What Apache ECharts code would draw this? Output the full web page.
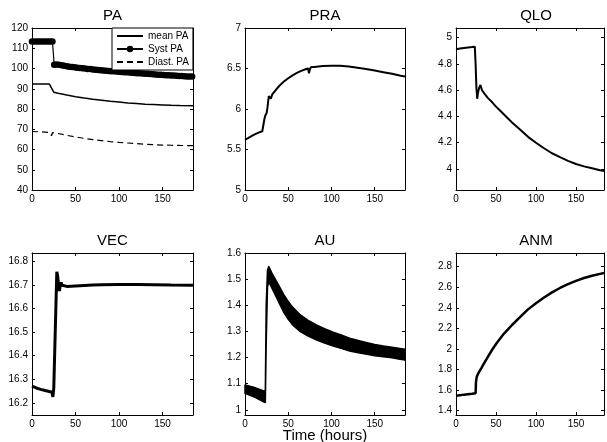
<!DOCTYPE html>
<html><head><meta charset="utf-8">
<script src="https://cdn.jsdelivr.net/npm/echarts@6/dist/echarts.min.js"></script>
<style>html,body{margin:0;padding:0;background:#fff}#c{width:607px;height:442px}</style>
</head><body><div id="c"></div>
<script>
// ---------- data ----------
const panelTitles = ['PA', 'PRA', 'QLO', 'VEC', 'AU', 'ANM'];
const xLabel = 'Time (hours)';
const xTickStep = 50;
const xMax = 185;
const yMins = [40, 5, 3.84, 16.148, 0.98, 1.358];
const yMaxs = [120, 7, 5.074, 16.837, 1.6, 2.933];
const ySteps = [10, 0.5, 0.2, 0.1, 0.1, 0.2];

const paLegend = ['mean PA', 'Syst PA', 'Diast. PA'];
const paMeanT = [0, 10, 20, 22, 25, 30, 40, 50, 60, 70, 80, 90, 100, 110, 120, 130, 140, 150, 160, 170, 185];
const paMean  = [92.3, 92.3, 92.3, 92.3, 88.3, 87.8, 86.9, 86.1, 85.4, 84.8, 84.3, 83.8, 83.4, 83.0, 82.7, 82.4, 82.2, 82.0, 81.8, 81.7, 81.6];
const paSystT = [0, 3, 6, 9, 12, 15, 18, 21, 23.5, 25.5, 28, 31, 34, 37, 40, 43, 46, 49, 52, 55, 58, 61, 64, 67, 70, 73, 76, 79, 82, 85, 88, 91, 94, 97, 100, 103, 106, 109, 112, 115, 118, 121, 124, 127, 130, 133, 136, 139, 142, 145, 148, 151, 154, 157, 160, 163, 166, 169, 172, 175, 178, 181, 184];
const paSyst  = [113.3, 113.3, 113.3, 113.3, 113.3, 113.3, 113.3, 113.3, 113.3, 101.9, 102.0, 101.8, 101.6, 101.4, 101.1, 100.9, 100.7, 100.6, 100.4, 100.3, 100.1, 100.0, 99.8, 99.7, 99.5, 99.4, 99.2, 99.1, 99.0, 98.9, 98.8, 98.7, 98.6, 98.5, 98.4, 98.3, 98.2, 98.1, 98.0, 97.9, 97.8, 97.7, 97.6, 97.5, 97.4, 97.35, 97.3, 97.2, 97.0, 96.95, 96.9, 96.8, 96.7, 96.65, 96.6, 96.5, 96.4, 96.35, 96.3, 96.2, 96.1, 96.05, 96.0];
const paDiastT = [0, 10, 20, 21.5, 22.5, 23.5, 30, 40, 50, 60, 70, 80, 90, 100, 110, 120, 130, 140, 150, 160, 170, 185];
const paDiast  = [68.9, 68.7, 68.4, 68.4, 66.8, 68.3, 67.9, 67.0, 66.2, 65.5, 64.9, 64.4, 63.9, 63.5, 63.2, 62.9, 62.6, 62.4, 62.2, 62.1, 62.0, 61.9];

const praT = [0, 5, 10, 15, 20, 22, 22.5, 23.5, 25, 26, 27.5, 28.5, 30, 31, 31.5, 33, 36, 40, 45, 50, 55, 60, 65, 70, 73, 74, 75, 76, 80, 90, 100, 110, 120, 130, 140, 150, 160, 170, 180, 185];
const pra  = [5.62, 5.65, 5.68, 5.705, 5.725, 5.735, 5.88, 5.92, 5.95, 6.02, 6.16, 6.14, 6.13, 6.14, 6.18, 6.2, 6.24, 6.29, 6.34, 6.38, 6.415, 6.445, 6.47, 6.49, 6.50, 6.44, 6.49, 6.515, 6.52, 6.53, 6.535, 6.533, 6.525, 6.51, 6.495, 6.475, 6.455, 6.435, 6.41, 6.40];

const qloT = [0, 5, 10, 15, 20, 23.5, 24.5, 25.5, 26.5, 27.5, 29, 30.5, 31.5, 32.5, 34, 36, 40, 45, 50, 55, 60, 65, 70, 80, 90, 100, 110, 120, 130, 140, 150, 160, 170, 180, 185];
const qlo  = [4.912, 4.917, 4.922, 4.926, 4.929, 4.932, 4.80, 4.62, 4.535, 4.58, 4.62, 4.64, 4.62, 4.60, 4.585, 4.57, 4.54, 4.51, 4.475, 4.445, 4.415, 4.385, 4.355, 4.30, 4.245, 4.2, 4.158, 4.12, 4.09, 4.062, 4.038, 4.02, 4.005, 3.99, 3.985];

const vecT = [0, 5, 10, 15, 20, 23, 24, 24.5, 25, 28.5, 29.5, 30.5, 31.5, 32.5, 33.5, 34.5, 36, 40, 50, 60, 70, 80, 100, 120, 140, 160, 185];
const vec  = [16.271, 16.263, 16.257, 16.252, 16.248, 16.245, 16.225, 16.218, 16.26, 16.757, 16.74, 16.70, 16.675, 16.70, 16.712, 16.70, 16.692, 16.695, 16.697, 16.699, 16.701, 16.702, 16.703, 16.703, 16.702, 16.701, 16.70];

const auT     = [0, 10, 21, 23.5, 24.5, 26, 27.5, 31, 35, 40, 45, 50, 55, 64, 73, 83, 92, 102, 112, 121, 131, 141, 150, 160, 170, 179, 185];
const auUpper = [1.095, 1.086, 1.073, 1.070, 1.40, 1.535, 1.548, 1.524, 1.50, 1.47, 1.44, 1.415, 1.393, 1.363, 1.342, 1.324, 1.310, 1.297, 1.285, 1.274, 1.265, 1.257, 1.250, 1.244, 1.239, 1.235, 1.232];
const auLower = [1.063, 1.050, 1.031, 1.028, 1.25, 1.47, 1.49, 1.466, 1.44, 1.405, 1.372, 1.346, 1.325, 1.299, 1.282, 1.267, 1.255, 1.244, 1.234, 1.225, 1.218, 1.212, 1.207, 1.203, 1.199, 1.193, 1.19];

const anmT = [0, 5, 10, 15, 20, 24.5, 25, 26, 28, 31.5, 35, 40, 45, 50.7, 55, 60, 65, 70, 80, 90, 100, 110, 120, 130, 140, 150, 160, 170, 180, 185];
const anm  = [1.546, 1.551, 1.556, 1.560, 1.564, 1.569, 1.68, 1.731, 1.765, 1.812, 1.86, 1.925, 1.99, 2.055, 2.10, 2.15, 2.19, 2.233, 2.31, 2.385, 2.445, 2.50, 2.55, 2.593, 2.63, 2.662, 2.69, 2.712, 2.73, 2.738];

// ---------- chart ----------
const FONT = '"Liberation Sans", Arial, Helvetica, sans-serif';
const zip = (t, v) => t.map((x, i) => [x, v[i]]);
const lbl = step => v => {
  const k = v / step;
  return Math.abs(k - Math.round(k)) < 1e-6 ? String(parseFloat(v.toFixed(3))) : '';
};

const grids = [
  {left: 32, top: 28, width: 161, height: 162},
  {left: 245, top: 28, width: 160, height: 162},
  {left: 456, top: 28, width: 160, height: 162},
  {left: 32, top: 253, width: 161, height: 162},
  {left: 245, top: 253, width: 160, height: 162},
  {left: 456, top: 253, width: 160, height: 162}
];

const axLine = {show: true, onZero: false, lineStyle: {color: '#000', width: 1}};
const axTick = {show: true, inside: true, length: 3, lineStyle: {color: '#000', width: 1}};
const xAxes = [], yAxes = [];
for (let m = 0; m < 2; m++) {
  for (let i = 0; i < 6; i++) {
    xAxes.push({
      type: 'value', gridIndex: i, min: 0, max: xMax,
      minInterval: xTickStep, maxInterval: xTickStep,
      position: m ? 'top' : 'bottom',
      axisLine: axLine, axisTick: axTick, splitLine: {show: false},
      axisLabel: {show: !m, color: '#000', fontSize: 10, fontFamily: FONT, margin: 4, formatter: lbl(xTickStep)}
    });
    yAxes.push({
      type: 'value', gridIndex: i, min: yMins[i], max: yMaxs[i],
      minInterval: ySteps[i], maxInterval: ySteps[i],
      position: m ? 'right' : 'left',
      axisLine: axLine, axisTick: axTick, splitLine: {show: false},
      axisLabel: {show: !m, color: '#000', fontSize: 10, fontFamily: FONT, margin: 4, formatter: lbl(ySteps[i])}
    });
  }
}

const titles = panelTitles.map((t, i) => ({
  text: t, left: grids[i].left + grids[i].width / 2, top: i < 3 ? 8 : 233,
  textAlign: 'center', padding: 0,
  textStyle: {fontSize: 15, fontWeight: 'normal', color: '#000', fontFamily: FONT}
}));
titles.push({
  text: xLabel, left: grids[4].left + grids[4].width / 2, top: 428,
  textAlign: 'center', padding: 0,
  textStyle: {fontSize: 15, fontWeight: 'normal', color: '#000', fontFamily: FONT}
});

const line = (name, i, data, w, extra) => Object.assign({
  type: 'line', name, xAxisIndex: i, yAxisIndex: i, data,
  symbol: 'none', animation: false, silent: true,
  lineStyle: {color: '#000', width: w}, itemStyle: {color: '#000'}
}, extra || {});

const series = [
  line(paLegend[0], 0, zip(paMeanT, paMean), 1.5),
  line(paLegend[1], 0, zip(paSystT, paSyst), 1.2, {symbol: 'circle', symbolSize: 6.5, showAllSymbol: true}),
  line(paLegend[2], 0, zip(paDiastT, paDiast), 1.2, {lineStyle: {color: '#000', width: 1.2, type: [6, 4]}}),
  line('PRA', 1, zip(praT, pra), 2),
  line('QLO', 2, zip(qloT, qlo), 2),
  line('VEC', 3, zip(vecT, vec), 3),
  {
    type: 'custom', name: 'AU', xAxisIndex: 4, yAxisIndex: 4, silent: true, animation: false,
    data: [[auT[0], auLower[0]]],
    renderItem: (params, api) => {
      const up = auT.map((t, k) => api.coord([t, auUpper[k]]));
      const lo = auT.map((t, k) => api.coord([t, auLower[k]])).reverse();
      return {type: 'polygon', shape: {points: up.concat(lo)},
              style: {fill: '#000', stroke: '#000', lineWidth: 1.5, lineJoin: 'round'}};
    }
  },
  line('ANM', 5, zip(anmT, anm), 2.5)
];

const chart = echarts.init(document.getElementById('c'), null, {renderer: 'canvas'});
chart.setOption({
  backgroundColor: '#fff',
  animation: false,
  title: titles,
  grid: grids,
  xAxis: xAxes,
  yAxis: yAxes,
  legend: {
    data: [
      {name: paLegend[0], itemStyle: {opacity: 0}},
      {name: paLegend[1]},
      {name: paLegend[2], itemStyle: {opacity: 0}}
    ],
    orient: 'vertical', left: 112, top: 28,
    itemWidth: 26, itemHeight: 8, itemGap: 3, padding: [3, 4, 3, 4],
    borderColor: '#000', borderWidth: 1, backgroundColor: '#fff',
    selectedMode: false, z: 10,
    textStyle: {fontSize: 10, color: '#000', fontFamily: FONT}
  },
  series
});
</script>
</body></html>
